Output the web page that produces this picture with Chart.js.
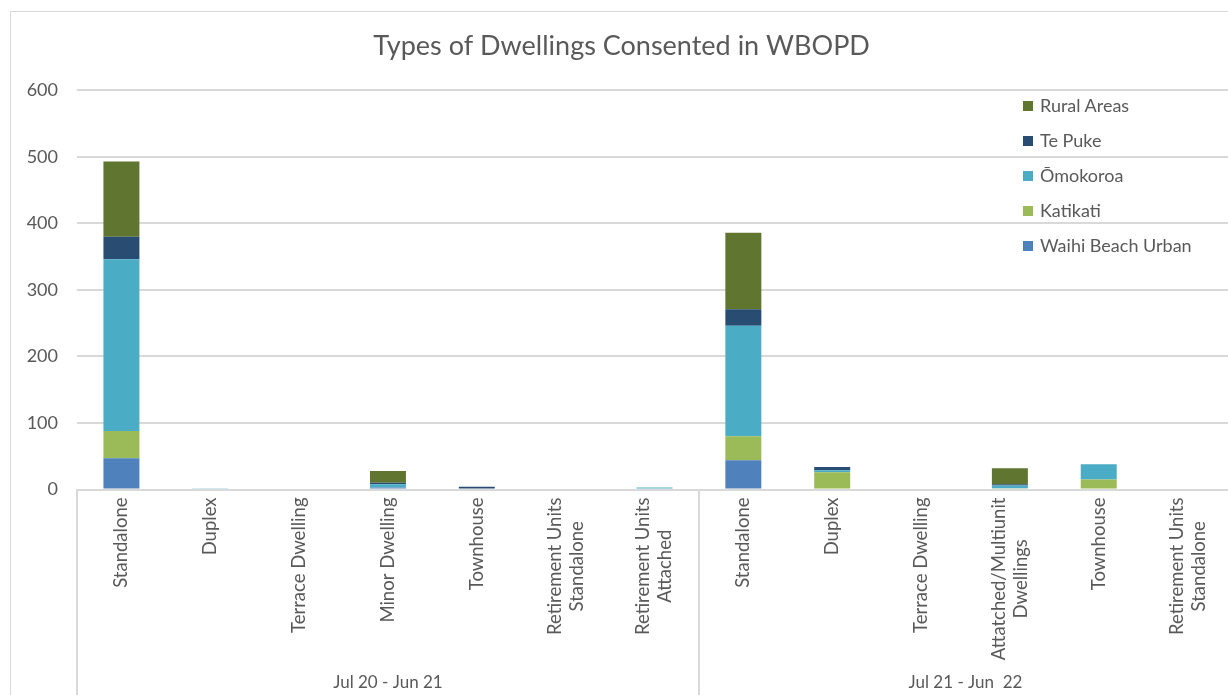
<!DOCTYPE html>
<html>
<head>
<meta charset="utf-8">
<script src="https://cdn.jsdelivr.net/npm/chart.js@4.4.1/dist/chart.umd.min.js"></script>
<style>
  html, body { margin: 0; padding: 0; background: #fff; overflow: hidden; }
  #frame { position: absolute; left: 10px; top: 11px; width: 1233px; height: 690px; border: 1px solid #d9d9d9; }
  #chart { display: block; }
  #legend { position: absolute; left: 1012px; top: 76px; font-family: Lato, sans-serif; font-size: 18px; color: #595959; }
  #legend .item { height: 35px; line-height: 35px; white-space: nowrap; }
  #legend .box { display: inline-block; width: 10px; height: 10px; margin-right: 7px; vertical-align: middle; position: relative; top: -1px; }
</style>
</head>
<body>
<div id="frame">
  <canvas id="chart" width="1233" height="690"></canvas>
  <div id="legend"></div>
</div>
<script>
// categories, each one a list of label lines
const categories = [
  ["Standalone"], ["Duplex"], ["Terrace Dwelling"], ["Minor Dwelling"], ["Townhouse"],
  ["Retirement Units", "Standalone"], ["Retirement Units", "Attached"],
  ["Standalone"], ["Duplex"], ["Terrace Dwelling"], ["Attatched/Multiunit", "Dwellings"],
  ["Townhouse"], ["Retirement Units", "Standalone"]
];
const groupNames = ["Jul 20 - Jun 21", "Jul 21 - Jun  22"];
const groupSizes = [7, 6];

const waihiBeach = [47, 0, 0, 3, 0, 0, 0, 44, 0, 0, 0, 0, 0];
const katikati   = [41, 0, 0, 0, 0, 0, 0, 36, 26, 0, 2, 15, 0];
const omokoroa   = [258, 2, 0, 5, 0, 0, 3, 166, 3, 0, 4, 23, 0];
const tePuke     = [34, 0, 0, 2, 4, 0, 0, 25, 5, 0, 2, 0, 0];
const ruralAreas = [113, 0, 0, 18, 0, 0, 0, 115, 0, 0, 24, 0, 0];

const yTicks = [0, 100, 200, 300, 400, 500, 600];

const textColor = "#595959";
const lineColor = "#d9d9d9";
const fontName = "Lato, sans-serif";

// category labels, separators and period names under the axis
const dwellingLabels = {
  id: "dwellingLabels",
  afterDraw(chart) {
    const ctx = chart.ctx;
    const xs = chart.scales.x;
    const area = chart.chartArea;
    ctx.save();
    ctx.fillStyle = textColor;
    ctx.font = "18.5px " + fontName;
    ctx.textBaseline = "middle";
    ctx.textAlign = "center";
    categories.forEach((lines, i) => {
      const x = xs.getPixelForValue(i);
      const maxW = Math.max(...lines.map((l) => ctx.measureText(l).width));
      ctx.save();
      ctx.translate(x, area.bottom + 8);
      ctx.rotate(-Math.PI / 2);
      lines.forEach((l, j) => {
        const dy = (j - (lines.length - 1) / 2) * 22;
        ctx.fillText(l, -maxW / 2, dy);
      });
      ctx.restore();
    });

    ctx.strokeStyle = lineColor;
    ctx.lineWidth = 2;
    ctx.font = "17px " + fontName;
    let start = 0;
    groupSizes.forEach((n, g) => {
      const left = xs.getPixelForValue(start - 0.5);
      const right = xs.getPixelForValue(start + n - 0.5);
      [left, right].forEach((px) => {
        ctx.beginPath();
        ctx.moveTo(Math.round(px), area.bottom);
        ctx.lineTo(Math.round(px), chart.height);
        ctx.stroke();
      });
      const mid = xs.getPixelForValue(start + (n - 1) / 2);
      ctx.fillText(groupNames[g], mid, area.bottom + 193);
      start += n;
    });
    ctx.restore();
  }
};

const data = {
  labels: categories,
  datasets: [
    { label: "Waihi Beach Urban", data: waihiBeach, backgroundColor: "#4f81bd" },
    { label: "Katikati", data: katikati, backgroundColor: "#9bbb59" },
    { label: "Ōmokoroa", data: omokoroa, backgroundColor: "#4bacc6" },
    { label: "Te Puke", data: tePuke, backgroundColor: "#294c73" },
    { label: "Rural Areas", data: ruralAreas, backgroundColor: "#5f7530" }
  ]
};

const config = {
  type: "bar",
  data: data,
  options: {
    responsive: false,
    animation: false,
    layout: { padding: { left: 0, right: 12, top: 0, bottom: 0 } },
    datasets: { bar: { categoryPercentage: 1, barPercentage: 0.405, borderWidth: 0 } },
    plugins: {
      legend: { display: false },
      tooltip: { enabled: false },
      title: {
        display: true,
        text: "Types of Dwellings Consented in WBOPD",
        color: textColor,
        font: { family: fontName, size: 27, weight: "normal" },
        padding: { top: 18, bottom: 28 }
      }
    },
    scales: {
      x: {
        stacked: true,
        grid: { display: false },
        border: { display: true, color: lineColor, width: 2 },
        ticks: { display: false },
        afterFit: (s) => { s.height = 690 - 477.5; }
      },
      y: {
        stacked: true,
        min: 0,
        max: 600,
        afterBuildTicks: (s) => { s.ticks = yTicks.map((v) => ({ value: v })); },
        ticks: { color: textColor, font: { family: fontName, size: 18 }, padding: 19 },
        grid: { color: lineColor, lineWidth: 2, drawTicks: false },
        border: { display: false },
        afterFit: (s) => { s.width = 66; }
      }
    }
  },
  plugins: [dwellingLabels]
};

const myChart = new Chart(document.getElementById("chart"), config);

// legend, top dataset first
const legend = document.getElementById("legend");
data.datasets.slice().reverse().forEach((ds) => {
  const item = document.createElement("div");
  item.className = "item";
  item.innerHTML = '<span class="box" style="background:' + ds.backgroundColor + '"></span>' + ds.label;
  legend.appendChild(item);
});
</script>
</body>
</html>
